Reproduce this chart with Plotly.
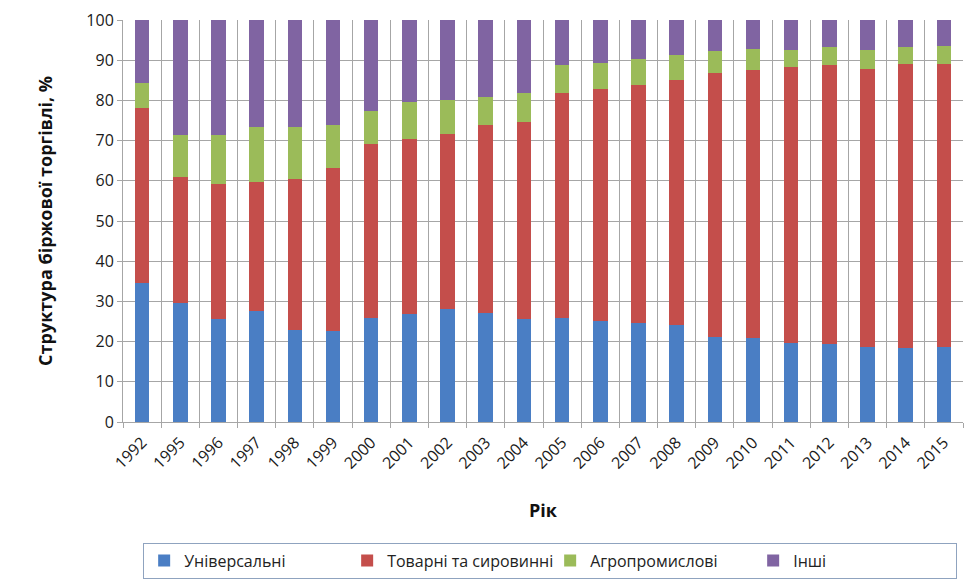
import plotly.graph_objects as go

years = ["1992", "1995", "1996", "1997", "1998", "1999", "2000", "2001", "2002", "2003", "2004",
         "2005", "2006", "2007", "2008", "2009", "2010", "2011", "2012", "2013", "2014", "2015"]

universal = [34.5, 29.7, 25.5, 27.5, 23.0, 22.7, 25.9, 26.9, 28.0, 27.0, 25.5,
             25.9, 25.2, 24.7, 24.1, 21.2, 20.8, 19.6, 19.3, 18.7, 18.3, 18.7]
commodity = [43.7, 31.2, 33.8, 32.2, 37.5, 40.6, 43.2, 43.6, 43.7, 46.8, 49.1,
             55.9, 57.7, 59.2, 61.0, 65.7, 66.7, 68.6, 69.5, 69.2, 70.7, 70.3]
agro = [6.2, 10.6, 12.2, 13.8, 13.0, 10.5, 8.3, 9.0, 8.3, 7.1, 7.3,
        7.0, 6.5, 6.4, 6.3, 5.4, 5.3, 4.4, 4.4, 4.7, 4.2, 4.6]
other = [15.6, 28.5, 28.5, 26.5, 26.5, 26.2, 22.6, 20.5, 20.0, 19.1, 18.1,
         11.2, 10.6, 9.7, 8.6, 7.7, 7.2, 7.4, 6.8, 7.4, 6.8, 6.4]

series_names = ["Універсальні", "Товарні та сировинні", "Агропромислові", "Інші"]
series_values = [universal, commodity, agro, other]
colors = ["#4A7EC4", "#C44E4B", "#9BBB59", "#8064A2"]

FONT = "Open Sans"

fig = go.Figure()
for name, vals, col in zip(series_names, series_values, colors):
    fig.add_trace(go.Bar(x=years, y=vals, name=name, marker=dict(color=col, line=dict(width=0))))

fig.update_layout(
    barmode="stack",
    bargap=0.62,
    width=976, height=583,
    margin=dict(l=115, r=21, t=12, b=169, autoexpand=False),
    paper_bgcolor="white", plot_bgcolor="white",
    font=dict(family=FONT, size=14, color="#222222"),
    showlegend=True,
    legend=dict(
        orientation="h", x=0.024, xanchor="left", y=-0.30, yanchor="top",
        bordercolor="#8FA3BF", borderwidth=1,
        entrywidth=158, entrywidthmode="pixels",
        font=dict(family=FONT, size=16, color="#222222"),
        traceorder="normal",
    ),
    xaxis=dict(
        type="category", tickson="boundaries", showgrid=True, gridcolor="#A6A6A6", gridwidth=1,
        showline=True, linecolor="#A6A6A6", ticks="outside", ticklen=5, tickcolor="#A6A6A6",
        tickangle=-45, ticklabelstandoff=4, tickfont=dict(family=FONT, size=16, color="#1a1a1a"),
    ),
    yaxis=dict(
        range=[0, 100], dtick=10, showgrid=True, gridcolor="#A6A6A6", gridwidth=1,
        showline=True, linecolor="#A6A6A6", ticks="outside", ticklen=5, tickcolor="#A6A6A6",
        zeroline=False, tickfont=dict(family=FONT, size=16, color="#1a1a1a"),
    ),
    annotations=[
        dict(text="<b>Рік</b>", xref="paper", yref="paper", x=0.5, y=-0.22, xanchor="center",
             yanchor="middle", showarrow=False, font=dict(family=FONT, size=18, color="#111111")),
        dict(text="<b>Структура біржової торгівлі, %</b>", xref="paper", yref="paper", x=-0.093, y=0.5,
             xanchor="center", yanchor="middle", textangle=-90, showarrow=False,
             font=dict(family=FONT, size=18, color="#111111")),
    ],
)

fig.write_html("out.html")
